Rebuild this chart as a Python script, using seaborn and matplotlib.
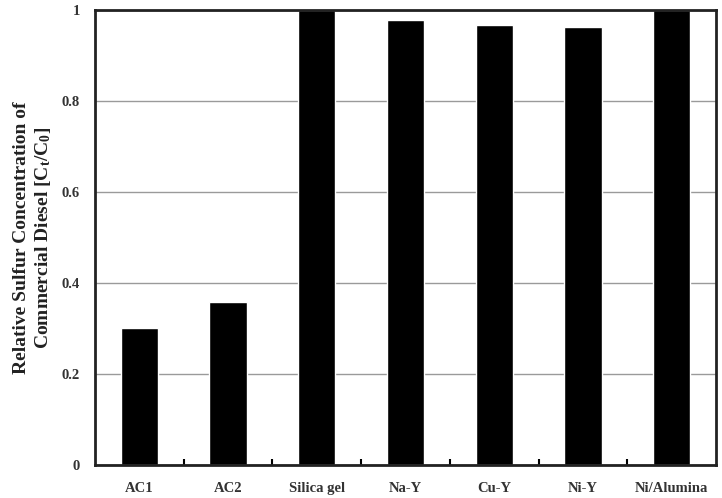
import numpy as np
import pandas as pd
import matplotlib
matplotlib.use('Agg')
import matplotlib.pyplot as plt
import seaborn as sns

# dados
adsorventes = ['AC1', 'AC2', 'Silica gel', 'Na-Y', 'Cu-Y', 'Ni-Y', 'Ni/Alumina']
concentracao_relativa = [0.301, 0.358, 1.0, 0.978, 0.967, 0.963, 1.0]
ticks_y = [0, 0.2, 0.4, 0.6, 0.8, 1]
rotulos_y = ['0', '0.2', '0.4', '0.6', '0.8', '1']

sns.set_style('white')
plt.rcParams['font.family'] = ['Liberation Serif', 'DejaVu Serif']
plt.rcParams['font.weight'] = 'bold'
plt.rcParams['mathtext.fontset'] = 'custom'
plt.rcParams['mathtext.rm'] = 'Liberation Serif:bold'
plt.rcParams['mathtext.it'] = 'Liberation Serif:bold'

df = pd.DataFrame({'adsorvente': adsorventes, 'conc': concentracao_relativa})

fig = plt.figure(figsize=(7.22, 4.98), dpi=100)
ax = fig.add_axes([0.1316, 0.0663, 0.86, 0.9137])

sns.barplot(data=df, x='adsorvente', y='conc', color='black',
            width=0.42, ax=ax, saturation=1)

ax.set_ylim(0, 1)
ax.set_xlim(-0.5, len(adsorventes) - 0.5)
ax.set_yticks(ticks_y)
ax.set_yticklabels(rotulos_y)
ax.set_axisbelow(True)
ax.yaxis.grid(True, color='#9a9a9a', linewidth=1)
ax.xaxis.grid(False)

for s in ax.spines.values():
    s.set_color('#222222')
    s.set_linewidth(2)

ax.tick_params(axis='x', which='major', length=0, pad=12, labelsize=10.5, labelcolor='#333333')
ax.tick_params(axis='y', which='major', length=0, pad=11, labelsize=10.5, labelcolor='#333333')
ax.set_xticks(np.arange(0.5, len(adsorventes) - 1, 1.0), minor=True)
ax.tick_params(axis='x', which='minor', direction='in', length=4, width=1.5, color='black', bottom=True)

ax.set_xlabel('')
ax.set_ylabel('Relative Sulfur Concentration of\nCommercial Diesel [C$_\\mathrm{t}$/C$_\\mathrm{0}$]',
              fontsize=14, fontweight='bold', color='#222222', linespacing=1.2)
ax.yaxis.set_label_coords(-0.068, 0.5)

plt.savefig('out.png', dpi=100)
plt.close()
